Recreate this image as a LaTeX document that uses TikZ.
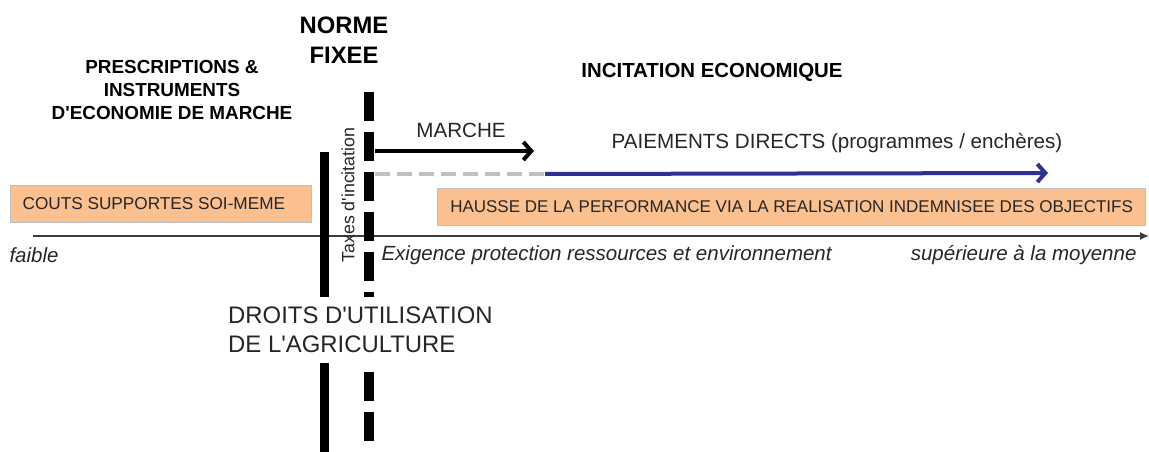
\documentclass[tikz,border=0pt]{standalone}
\usepackage{fontspec}
\setmainfont{Liberation Sans}
\usetikzlibrary{arrows.meta}
\definecolor{boxorange}{RGB}{250,192,144}
\definecolor{boxborder}{RGB}{191,191,191}
\definecolor{navy}{RGB}{46,49,146}
\definecolor{dashgray}{RGB}{191,191,191}
\definecolor{axisgray}{RGB}{60,60,60}
\newcommand{\apos}{\textquotesingle}
\tikzset{
  headbold/.style={font=\fontsize{18.9}{23}\selectfont\bfseries, align=center, text=black},
  normebold/.style={font=\fontsize{23.8}{30}\selectfont\bfseries, align=center, text=black},
  plainlbl/.style={font=\fontsize{20.6}{24}\selectfont, text=black!85},
  axislbl/.style={font=\fontsize{20.5}{24}\selectfont\itshape, text=black!85},
  orangebox/.style={draw=boxborder, line width=1.2, fill=boxorange, inner sep=0pt, font=\fontsize{17}{20}\selectfont, text=black!85},
  solidbar/.style={line width=9, black},
  dashbar/.style={line width=9.5, black, dash pattern=on 29 off 11},
}
\begin{document}
\begin{tikzpicture}[x=1pt,y=-1pt]
\useasboundingbox (0,0) rectangle (1149,452);

% axis
\coordinate (axs) at (33,236);
\coordinate (axe) at (1149,236);
\draw[line width=1.4, axisgray, -{Latex[length=9,width=8]}] (axs) -- (axe);

% boxes
\node[orangebox, minimum width=301, minimum height=37, anchor=north west] (couts) at (10,185) {};
\node[anchor=west, orangebox, draw=none, fill=none, font=\fontsize{17.2}{20}\selectfont] (coutstxt) at (22,204) {COUTS SUPPORTES SOI-MEME};
\node[orangebox, minimum width=708, minimum height=37, anchor=north west] (hausse) at (437,188) {HAUSSE DE LA PERFORMANCE VIA LA REALISATION INDEMNISEE DES OBJECTIFS};

% vertical bars
\coordinate (s1) at (324.5,152);
\coordinate (s2) at (324.5,452);
\coordinate (d1) at (369,92);
\coordinate (d2) at (369,452);
\draw[solidbar] (s1) -- (s2);
\draw[dashbar] (d1) -- (d2);

% droits text (white background hides bars)
\node[plainlbl, font=\fontsize{23.9}{29}\selectfont, fill=white, align=left, anchor=west, inner xsep=2pt, inner ysep=0pt, minimum height=66] (droits) at (226,330) {DROITS D\apos UTILISATION\\DE L\apos AGRICULTURE};

% headings
\node[normebold] (norme) at (344,40.5) {NORME\\FIXEE};
\node[headbold] (presc) at (172,89.5) {PRESCRIPTIONS \&\\INSTRUMENTS\\D\apos ECONOMIE DE MARCHE};
\node[headbold, font=\fontsize{20.4}{24}\selectfont\bfseries] (incit) at (712,72) {INCITATION ECONOMIQUE};

% taxes
\node[plainlbl, font=\fontsize{17.8}{20}\selectfont, rotate=90] (taxes) at (348,195) {Taxes d\apos incitation};

% marche arrow
\node[plainlbl] (marche) at (461,130) {MARCHE};
\coordinate (m1) at (375,151);
\coordinate (m2) at (534,151);
\draw[line width=4, black, -{Straight Barb[length=8,width=18]}] (m1) -- (m2);

% paiements
\node[plainlbl] (paie) at (837,143) {PAIEMENTS DIRECTS (programmes / enchères)};
\coordinate (g1) at (375,174);
\coordinate (g2) at (545,174);
\coordinate (b2) at (1048,173);
\draw[line width=4, dashgray, dash pattern=on 15 off 7] (g1) -- (g2);
\draw[line width=4, navy, -{Straight Barb[length=8,width=18]}] (g2) -- (b2);

% axis labels
\node[axislbl, anchor=west] (faible) at (6,255) {faible};
\node[axislbl, anchor=west] (exig) at (378,255) {Exigence protection ressources et environnement};
\node[axislbl, anchor=east] (sup) at (1140,255) {supérieure à la moyenne};
\end{tikzpicture}
\end{document}
